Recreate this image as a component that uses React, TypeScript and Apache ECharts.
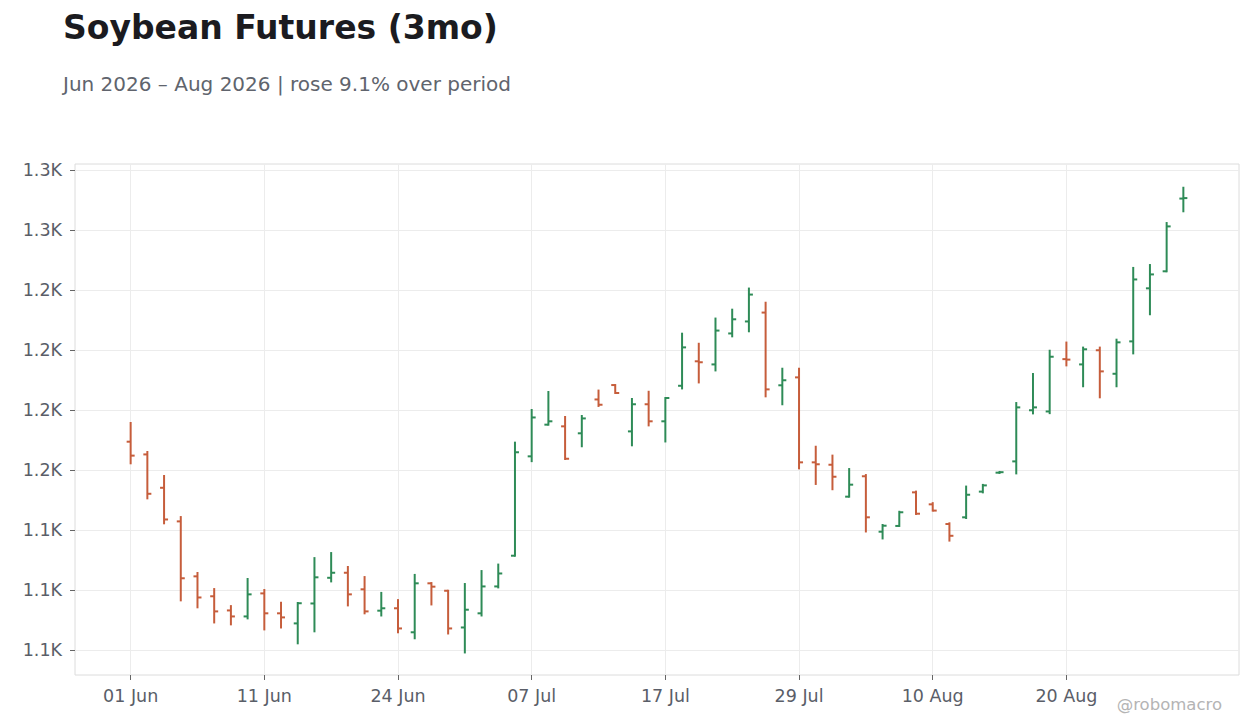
import React, { useEffect, useRef } from 'react';
import * as echarts from 'echarts';

// trading days, Jun–Aug 2026
const dates = [
  '01 Jun', '02 Jun', '03 Jun', '04 Jun', '05 Jun', '08 Jun', '09 Jun', '10 Jun',
  '11 Jun', '12 Jun', '15 Jun', '16 Jun', '17 Jun', '18 Jun', '22 Jun', '23 Jun',
  '24 Jun', '25 Jun', '26 Jun', '29 Jun', '30 Jun', '01 Jul', '02 Jul', '06 Jul',
  '07 Jul', '08 Jul', '09 Jul', '10 Jul', '13 Jul', '14 Jul', '15 Jul', '16 Jul',
  '17 Jul', '20 Jul', '21 Jul', '22 Jul', '23 Jul', '24 Jul', '27 Jul', '28 Jul',
  '29 Jul', '30 Jul', '31 Jul', '03 Aug', '04 Aug', '05 Aug', '06 Aug', '07 Aug',
  '10 Aug', '11 Aug', '12 Aug', '13 Aug', '14 Aug', '17 Aug', '18 Aug', '19 Aug',
  '20 Aug', '21 Aug', '24 Aug', '25 Aug', '26 Aug', '27 Aug', '28 Aug', '31 Aug'
];

const opens = [
  1161.8, 1156.5, 1142.6, 1128.6, 1105.7, 1097.4, 1091.5, 1089.0,
  1098.6, 1090.3, 1086.1, 1094.4, 1105.1, 1107.2, 1100.3, 1091.4,
  1092.4, 1082.4, 1102.8, 1099.7, 1084.4, 1090.3, 1101.5, 1114.3,
  1155.7, 1168.9, 1168.2, 1165.3, 1179.4, 1185.4, 1166.1, 1177.4,
  1170.3, 1185.1, 1195.3, 1194.0, 1206.9, 1211.9, 1215.6, 1185.3,
  1188.6, 1153.2, 1152.2, 1138.9, 1147.4, 1124.3, 1126.7, 1140.7,
  1135.7, 1127.5, 1130.3, 1141.0, 1148.9, 1153.6, 1174.9, 1174.4,
  1196.2, 1194.0, 1199.9, 1190.1, 1203.6, 1225.7, 1232.8, 1263.1
];
const highs = [
  1169.6, 1157.5, 1147.5, 1130.4, 1107.1, 1100.4, 1093.3, 1104.6,
  1100.0, 1094.7, 1094.6, 1113.3, 1115.4, 1109.6, 1105.4, 1098.8,
  1095.8, 1106.3, 1102.9, 1099.7, 1102.5, 1107.9, 1110.6, 1161.4,
  1175.0, 1182.5, 1172.1, 1172.5, 1183.1, 1185.4, 1179.6, 1182.6,
  1180.0, 1206.8, 1202.6, 1213.1, 1216.8, 1225.6, 1219.7, 1192.2,
  1192.2, 1159.7, 1156.0, 1150.4, 1147.9, 1127.1, 1132.6, 1141.0,
  1136.2, 1127.8, 1143.1, 1143.8, 1149.2, 1177.9, 1190.0, 1199.7,
  1203.1, 1201.0, 1201.0, 1204.3, 1234.2, 1235.4, 1252.9, 1267.6
];
const lows = [
  1152.8, 1138.2, 1127.8, 1095.7, 1092.8, 1086.5, 1085.7, 1088.2,
  1083.6, 1084.4, 1077.8, 1082.8, 1103.6, 1093.6, 1090.3, 1089.4,
  1082.4, 1079.9, 1094.0, 1081.9, 1074.0, 1089.4, 1101.1, 1114.3,
  1153.7, 1168.9, 1154.6, 1159.9, 1176.7, 1182.1, 1160.3, 1168.6,
  1161.9, 1184.0, 1186.5, 1191.5, 1205.7, 1207.8, 1180.7, 1177.4,
  1150.7, 1144.2, 1142.0, 1138.9, 1124.4, 1121.5, 1126.7, 1131.7,
  1133.1, 1120.6, 1130.0, 1140.7, 1148.8, 1148.6, 1173.6, 1173.7,
  1193.6, 1184.9, 1180.3, 1184.9, 1198.6, 1214.9, 1232.8, 1257.8
];
const closes = [
  1156.0, 1140.1, 1129.4, 1104.9, 1096.9, 1091.1, 1089.0, 1098.2,
  1090.3, 1088.6, 1094.5, 1105.3, 1107.2, 1098.2, 1091.1, 1092.4,
  1084.0, 1102.8, 1101.4, 1084.0, 1091.8, 1101.5, 1106.9, 1157.4,
  1171.9, 1170.3, 1154.7, 1171.5, 1177.2, 1182.1, 1177.4, 1170.3,
  1180.0, 1201.1, 1194.9, 1208.1, 1212.8, 1223.1, 1183.6, 1187.4,
  1153.2, 1152.4, 1147.2, 1143.9, 1130.3, 1126.8, 1132.4, 1131.8,
  1133.1, 1122.6, 1139.7, 1143.6, 1149.1, 1176.1, 1176.1, 1197.2,
  1196.0, 1200.3, 1191.1, 1203.2, 1229.4, 1231.5, 1251.5, 1263.3
];

const xTicks = [0, 8, 16, 24, 32, 40, 48, 56];
const yTicks = [1075, 1100, 1125, 1150, 1175, 1200, 1225, 1250, 1275];

const UP = '#2e8b57';
const DOWN = '#c65d3b';
const FONT = 'DejaVu Sans';

const App: React.FC = () => {
  const chartRef = useRef<HTMLDivElement>(null);

  useEffect(() => {
    if (!chartRef.current) return;
    const chart = echarts.init(chartRef.current, undefined, { renderer: 'svg' });

    const data = dates.map((_, i) => [i, opens[i], closes[i], lows[i], highs[i]]);

    const option: echarts.EChartsOption = {
      animation: false,
      backgroundColor: '#fff',
      textStyle: { fontFamily: FONT },
      title: {
        text: 'Soybean Futures (3mo)',
        subtext: 'Jun 2026 – Aug 2026 | rose 9.1% over period',
        left: 63,
        top: 11,
        padding: 0,
        itemGap: 30,
        textStyle: { fontFamily: FONT, fontSize: 33, fontWeight: 'bold', color: '#1b1b20' },
        subtextStyle: { fontFamily: FONT, fontSize: 20, color: '#60646d' }
      },
      graphic: [
        {
          type: 'text',
          right: 38,
          bottom: 15,
          style: { text: '@robomacro', font: `16.5px "${FONT}"`, fill: '#b4b4b4' }
        }
      ],
      grid: {
        left: 75,
        right: 21,
        top: 164,
        bottom: 53,
        show: true,
        borderColor: '#dcdcdc',
        borderWidth: 1,
        containLabel: false
      },
      xAxis: {
        type: 'value',
        min: -3.33,
        max: 66.33,
        axisLine: { show: false, onZero: false },
        axisTick: {
          show: true,
          length: 5,
          customValues: xTicks,
          lineStyle: { color: '#666' }
        },
        axisLabel: {
          customValues: xTicks,
          formatter: (v: number) => dates[Math.round(v)] ?? '',
          color: '#5a5e68',
          fontSize: 17.5,
          fontFamily: FONT,
          margin: 12
        },
        splitLine: { show: true, lineStyle: { color: '#ececec', width: 1 } }
      },
      yAxis: {
        type: 'value',
        min: 1064.6,
        max: 1277.5,
        axisLine: { show: false, onZero: false },
        axisTick: {
          show: true,
          length: 5,
          customValues: yTicks,
          lineStyle: { color: '#666' }
        },
        axisLabel: {
          customValues: yTicks,
          formatter: (v: number) => (Math.round(v / 100) / 10).toFixed(1) + 'K',
          color: '#5a5e68',
          fontSize: 17.5,
          fontFamily: FONT,
          margin: 13
        },
        splitLine: { show: true, lineStyle: { color: '#ececec', width: 1 } }
      },
      series: [
        {
          type: 'custom',
          data,
          encode: { x: 0, y: [1, 2, 3, 4] },
          renderItem: (_params: any, api: any) => {
            const x = api.value(0);
            const o = api.coord([x, api.value(1)]);
            const c = api.coord([x, api.value(2)]);
            const l = api.coord([x, api.value(3)]);
            const h = api.coord([x, api.value(4)]);
            const color = api.value(2) >= api.value(1) ? UP : DOWN;
            const st = { stroke: color, lineWidth: 2 };
            return {
              type: 'group',
              children: [
                { type: 'line', shape: { x1: h[0], y1: h[1] - 1, x2: l[0], y2: l[1] + 1 }, style: st },
                { type: 'line', shape: { x1: o[0] - 4, y1: o[1], x2: o[0], y2: o[1] }, style: st },
                { type: 'line', shape: { x1: c[0], y1: c[1], x2: c[0] + 4, y2: c[1] }, style: st }
              ]
            };
          }
        }
      ]
    };

    chart.setOption(option);

    return () => {
      chart.dispose();
    };
  }, []);

  return (
    <div
      ref={chartRef}
      style={{ position: 'fixed', left: 0, top: 0, width: '1260px', height: '728px', background: '#fff' }}
    />
  );
};

export default App;
